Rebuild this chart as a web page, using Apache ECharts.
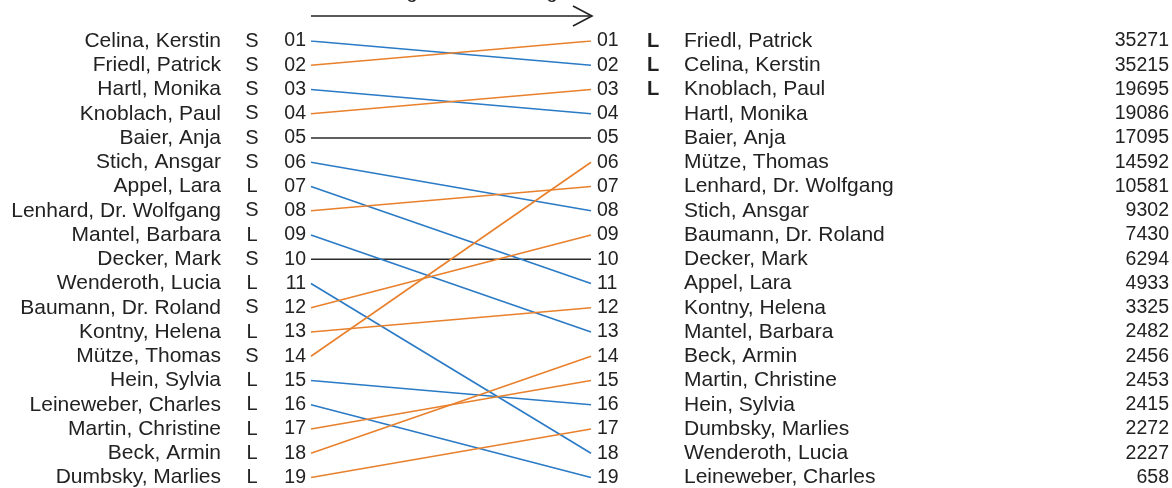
<!DOCTYPE html>
<html>
<head>
<meta charset="utf-8">
<script src="https://cdn.jsdelivr.net/npm/echarts@6/dist/echarts.min.js"></script>
<style>
html,body{margin:0;padding:0;background:#fff;}
#chart{width:1172px;height:488px;}
</style>
</head>
<body>
<div id="chart"></div>
<script>
// Previous ranking (left)
var leftNames = ['Celina, Kerstin','Friedl, Patrick','Hartl, Monika','Knoblach, Paul','Baier, Anja','Stich, Ansgar','Appel, Lara','Lenhard, Dr. Wolfgang','Mantel, Barbara','Decker, Mark','Wenderoth, Lucia','Baumann, Dr. Roland','Kontny, Helena','Mütze, Thomas','Hein, Sylvia','Leineweber, Charles','Martin, Christine','Beck, Armin','Dumbsky, Marlies'];
var leftTypes = ['S','S','S','S','S','S','L','S','L','S','L','S','L','S','L','L','L','L','L'];
// Current ranking (right)
var rightNames = ['Friedl, Patrick','Celina, Kerstin','Knoblach, Paul','Hartl, Monika','Baier, Anja','Mütze, Thomas','Lenhard, Dr. Wolfgang','Stich, Ansgar','Baumann, Dr. Roland','Decker, Mark','Appel, Lara','Kontny, Helena','Mantel, Barbara','Beck, Armin','Martin, Christine','Hein, Sylvia','Dumbsky, Marlies','Wenderoth, Lucia','Leineweber, Charles'];
var rightMarks = ['L','L','L','','','','','','','','','','','','','','','',''];
var rightValues = [35271,35215,19695,19086,17095,14592,10581,9302,7430,6294,4933,3325,2482,2456,2453,2415,2272,2227,658];
var arrowTitle = 'Veränderung der Platzierung';

var TXT = '#222';
var FONT = 'Liberation Sans, Arial, Helvetica, sans-serif';
var FS_NAME = 21, FS_NUM = 19.5, FS_TYPE = 20;
var UP = '#E8802C', DOWN = '#2A7AC6', SAME = '#2b2b2b';

function pad(n){ return (n < 10 ? '0' : '') + n; }
function idx(v){ return Math.round(v) - 1; }

function yAx(position, offset, margin, align, fs, fmt, bold){
  return {
    type: 'value', position: position, offset: offset, inverse: true,
    min: 1, max: 19, interval: 1,
    axisLine: {show: false}, axisTick: {show: false}, splitLine: {show: false},
    axisLabel: {
      margin: margin, align: align, color: TXT, fontSize: fs, fontFamily: FONT,
      fontWeight: bold ? 'bold' : 'normal',
      formatter: fmt
    }
  };
}

var series = leftNames.map(function(name, i){
  var j = rightNames.indexOf(name);
  var from = i + 1, to = j + 1;
  var c = to < from ? UP : (to > from ? DOWN : SAME);
  return {
    type: 'line', xAxisIndex: 0, yAxisIndex: 0,
    data: [[0, from], [1, to]],
    symbol: 'none', silent: true,
    lineStyle: {color: c, width: 1.6},
    z: c === SAME ? 1 : 2
  };
});

var chart = echarts.init(document.getElementById('chart'), null, {renderer: 'canvas'});
chart.setOption({
  animation: false,
  backgroundColor: '#fff',
  grid: {left: 311, right: 580, top: 41, bottom: 9, containLabel: false},
  xAxis: {type: 'value', min: 0, max: 1, show: false},
  yAxis: [
    yAx('left', 0, 5, 'right', FS_NUM, function(v){ return pad(Math.round(v)); }),
    yAx('left', 59, 0, 'center', FS_TYPE, function(v){ return leftTypes[idx(v)] || ''; }),
    yAx('left', 90, 0, 'right', FS_NAME, function(v){ return leftNames[idx(v)] || ''; }),
    yAx('right', 0, 6, 'left', FS_NUM, function(v){ return pad(Math.round(v)); }),
    yAx('right', 56, 0, 'left', FS_TYPE, function(v){ return rightMarks[idx(v)] || ''; }, true),
    yAx('right', 93, 0, 'left', FS_NAME, function(v){ return rightNames[idx(v)] || ''; }),
    yAx('right', 578, 0, 'right', FS_NUM, function(v){ var x = rightValues[idx(v)]; return x == null ? '' : String(x); })
  ],
  graphic: [
    {type: 'line', shape: {x1: 311, y1: 16, x2: 592, y2: 16}, style: {stroke: TXT, lineWidth: 1.6}},
    {type: 'polyline', shape: {points: [[573, 6], [592, 16], [573, 26]]}, style: {stroke: TXT, lineWidth: 1.6, fill: null}},
    {type: 'text', left: 303, top: -18, style: {text: arrowTitle, fill: TXT, font: '20px ' + FONT}}
  ],
  series: series
});
</script>
</body>
</html>
